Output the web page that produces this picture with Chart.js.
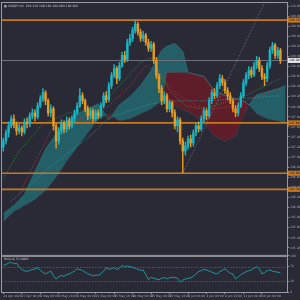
<!DOCTYPE html>
<html>
<head>
<meta charset="utf-8">
<script src="https://cdn.jsdelivr.net/npm/chart.js@4.4.0/dist/chart.umd.min.js"></script>
<style>
  html, body { margin: 0; padding: 0; background: #2a2a36; }
  canvas { display: block; }
</style>
</head>
<body>
<canvas id="chart" width="300" height="300"></canvas>
<script>
// ---- data ----
var symbolTitle = "USDJPY,H4";
var dateLabels = ["24 Apr 2020", "27 Apr 08:00", "1 May 00:00", "4 May 16:00", "8 May 08:00",
  "13 May 00:00", "15 May 16:00", "20 May 08:00", "25 May 00:00", "27 May 16:00",
  "1 Jun 08:00", "4 Jun 00:00", "8 Jun 16:00", "11 Jun 08:00", "16 Jun 00:00"];

var opens = [107.20,107.32,107.48,107.62,107.76,107.64,107.52,107.58,107.50,107.70,
  107.66,107.82,107.88,107.80,108.02,108.16,108.28,108.12,107.88,107.96,
  107.62,107.32,107.52,107.68,107.56,107.72,107.62,107.76,107.88,108.02,
  108.22,108.12,107.96,107.82,107.92,107.76,107.88,107.82,108.02,108.22,
  108.14,108.42,108.62,108.76,108.56,108.82,109.02,108.94,109.28,109.36,
  109.52,109.64,109.48,109.36,109.42,109.28,109.16,109.24,108.92,108.62,
  108.36,108.12,108.22,107.96,108.08,107.88,107.62,107.74,107.32,107.12,
  107.22,107.36,107.28,107.48,107.62,107.56,107.76,107.92,107.82,108.12,
  108.28,108.22,108.42,108.56,108.48,108.32,108.22,108.12,107.96,107.88,
  108.02,108.22,108.48,108.62,108.72,108.64,108.82,108.92,108.76,108.60,
  108.56,108.82,109.12,109.22,109.02,109.12];
var highs = [107.38,107.54,107.70,107.82,107.84,107.70,107.66,107.62,107.76,107.78,
  107.88,107.96,107.94,108.08,108.22,108.36,108.32,108.16,108.04,108.00,
  107.66,107.58,107.74,107.72,107.80,107.78,107.82,107.94,108.08,108.36,
  108.28,108.16,108.02,107.98,107.96,107.94,107.94,108.08,108.28,108.30,
  108.48,108.68,108.84,108.80,108.88,109.08,109.10,109.34,109.44,109.58,
  109.72,109.68,109.54,109.50,109.46,109.34,109.30,109.28,108.98,108.66,
  108.42,108.30,108.26,108.14,108.12,107.94,107.80,107.78,107.38,107.30,
  107.42,107.44,107.54,107.68,107.70,107.82,107.98,107.96,108.18,108.34,
  108.36,108.48,108.64,108.62,108.54,108.38,108.28,108.16,108.02,108.08,
  108.28,108.54,108.68,108.80,108.78,108.88,109.00,108.98,108.82,108.66,
  108.88,109.18,109.28,109.26,109.18,109.16];
var lows = [107.12,107.26,107.40,107.58,107.58,107.44,107.46,107.42,107.46,107.58,
  107.60,107.76,107.72,107.76,107.98,108.10,108.04,107.82,107.80,107.54,
  107.18,107.26,107.46,107.48,107.50,107.56,107.58,107.70,107.84,107.98,
  108.06,107.90,107.74,107.76,107.70,107.72,107.76,107.78,107.98,108.08,
  108.10,108.36,108.58,108.46,108.52,108.78,108.88,108.90,109.22,109.30,
  109.46,109.42,109.30,109.30,109.22,109.10,109.10,108.86,108.56,108.28,
  108.04,108.06,107.90,107.90,107.80,107.56,107.50,107.26,106.68,107.04,
  107.16,107.20,107.22,107.42,107.50,107.52,107.70,107.74,107.78,108.06,
  108.16,108.18,108.36,108.42,108.26,108.14,108.06,107.90,107.80,107.82,
  107.98,108.18,108.42,108.56,108.58,108.60,108.76,108.70,108.54,108.42,
  108.50,108.76,109.06,108.96,108.96,108.86];
var closes = [107.32,107.48,107.62,107.76,107.64,107.52,107.58,107.50,107.70,107.66,
  107.82,107.88,107.80,108.02,108.16,108.28,108.12,107.88,107.96,107.62,
  107.32,107.52,107.68,107.56,107.72,107.62,107.76,107.88,108.02,108.22,
  108.12,107.96,107.82,107.92,107.76,107.88,107.82,108.02,108.22,108.14,
  108.42,108.62,108.76,108.56,108.82,109.02,108.94,109.28,109.36,109.52,
  109.64,109.48,109.36,109.42,109.28,109.16,109.24,108.92,108.62,108.36,
  108.12,108.22,107.96,108.08,107.88,107.62,107.74,107.32,107.12,107.22,
  107.36,107.28,107.48,107.62,107.56,107.76,107.92,107.82,108.12,108.28,
  108.22,108.42,108.56,108.48,108.32,108.22,108.12,107.96,107.88,108.02,
  108.22,108.48,108.62,108.72,108.64,108.82,108.92,108.76,108.60,108.56,
  108.82,109.12,109.22,109.02,109.12,108.92];

// ichimoku cloud edges (bar index, span A, span B)
var cloudIdx = [0,4,8,12,16,20,24,28,32,36,40,44,48,52,56,60,62,65,68,70,76,80,84,88,91,93,96,100,104,107];
var spanA = [105.88,106.04,106.26,106.72,107.16,107.46,107.72,107.86,107.96,108.06,107.74,108.04,108.20,108.42,
  108.72,109.12,109.20,109.26,109.10,108.68,108.60,108.32,108.22,108.16,108.12,108.04,108.24,108.30,108.36,108.42];
var spanB = [105.72,105.92,106.04,106.16,106.34,106.60,106.92,107.20,107.48,107.76,107.86,107.72,107.76,107.86,
  107.96,108.12,108.68,108.68,108.68,108.68,108.60,108.32,108.22,108.16,108.12,108.04,107.86,107.76,107.72,107.68];

// dark red kumo block under the May peak
var kumoIdx = [61,65,71,76,80,84,88,91,93];
var kumoTop = [108.68,108.68,108.66,108.60,108.32,108.22,108.16,108.12,108.04];
var kumoBottom = [108.12,108.02,107.88,107.68,107.42,107.32,107.42,107.82,108.04];

// dotted indicator lines
var greenIdx = [0,6,15,25,37,44,52,56,59,63,69,75,80,86,92,97,105];
var greenVals = [106.58,107.12,107.66,107.88,108.02,108.42,108.88,108.98,108.72,108.32,108.02,107.96,108.02,108.12,108.22,108.36,108.56];
var redIdx = [6,18,29,40,48,54,59,65,73,80,88,95,105];
var redVals = [106.26,107.52,107.76,108.02,108.42,108.82,108.68,108.28,108.02,107.96,108.02,108.18,108.36];
var tealIdx = [3,18,32,40,56,67,78,90,105];
var tealVals = [106.12,106.82,107.38,107.78,108.06,108.12,108.12,108.16,108.22];

// trend line from the May low
var trendIdx = [68, 99];
var trendVals = [106.68, 110.06];

// horizontal levels
var levels = [109.72, 107.68, 106.68, 106.36];

// RSI(14)
var rsiValues = [73,76,80,82,78,80,70,62,59,57,60,62,64,67,60,55,50,54,58,45,
  36,42,46,43,48,50,54,58,64,62,59,55,50,48,44,47,46,50,58,67,
  63,64,68,62,66,73,70,72,70,68,66,62,60,61,48,34,41,38,36,34,
  38,40,37,39,41,40,38,27,33,36,38,39,44,50,57,59,62,61,58,55,
  52,50,56,60,64,58,52,50,36,42,48,52,56,59,61,66,70,64,50,54,
  59,61,58,56,55,53];
var rsiLevels = [70, 30];
var rsiTicks = [0, 30, 70, 100];

// ---- colours ----
var bg = '#2a2a36';
var upColor = '#17b6c4';
var downColor = '#e59a20';
var levelColor = '#c8781e';
var axisText = '#a4a4ac';
var axisLine = '#9a9aa2';
var tealFill = 'rgba(34,132,138,0.6)';
var redFill = 'rgba(112,26,38,0.75)';

var slots = [];
for (var i = 0; i < opens.length + 2; i++) slots.push(i);

function pts(idx, vals) {
  return idx.map(function (x, k) { return { x: x, y: vals[k] }; });
}

var bodyColors = opens.map(function (o, i) { return closes[i] >= o ? upColor : downColor; });

var mt4 = {
  id: 'mt4',
  beforeDraw: function (chart) {
    var c = chart.ctx;
    c.save();
    c.fillStyle = bg;
    c.fillRect(0, 0, chart.width, chart.height);
    c.restore();
  },
  afterDatasetDraw: function (chart, args) {
    if (args.index !== 0) return;
    var c = chart.ctx, a = chart.chartArea, ys = chart.scales.y;
    c.save();
    c.lineWidth = 1;
    var py = Math.round(ys.getPixelForValue(closes[closes.length - 1])) + 0.5;
    c.strokeStyle = '#707080';
    c.beginPath(); c.moveTo(a.left, py); c.lineTo(a.right, py); c.stroke();
    c.lineWidth = 1.6;
    c.strokeStyle = levelColor;
    levels.forEach(function (v) {
      var ly = ys.getPixelForValue(v);
      c.beginPath(); c.moveTo(a.left, ly); c.lineTo(a.right, ly); c.stroke();
    });
    c.restore();
  },
  afterDraw: function (chart) {
    var c = chart.ctx, a = chart.chartArea, ys = chart.scales.y, rs = chart.scales.yRsi;
    c.save();
    // rsi level lines
    c.strokeStyle = '#6a6a74';
    c.lineWidth = 0.7;
    c.setLineDash([1.5, 1.5]);
    rsiLevels.forEach(function (v) {
      var py = Math.round(rs.getPixelForValue(v)) + 0.5;
      c.beginPath(); c.moveTo(a.left, py); c.lineTo(a.right, py); c.stroke();
    });
    c.setLineDash([]);
    // panel frames
    c.strokeStyle = axisLine;
    c.lineWidth = 1;
    c.strokeRect(a.left - 0.5, ys.top - 0.5, a.right - a.left + 1, ys.bottom - ys.top);
    c.strokeRect(a.left - 0.5, rs.top + 0.5, a.right - a.left + 1, rs.bottom - rs.top);
    // price labels on the axis
    c.font = '3px "DejaVu Sans"';
    c.textBaseline = 'middle';
    levels.forEach(function (v) {
      var py = ys.getPixelForValue(v);
      c.fillStyle = levelColor;
      c.fillRect(a.right + 1, py - 2.5, 12, 5);
      c.fillStyle = '#1e1e24';
      c.fillText(v.toFixed(3), a.right + 2, py);
    });
    var last = closes[closes.length - 1];
    var pl = ys.getPixelForValue(last);
    c.fillStyle = '#e8e8ec';
    c.fillRect(a.right + 1, pl - 2.5, 12, 5);
    c.fillStyle = '#1e1e24';
    c.fillText(last.toFixed(3), a.right + 2, pl);
    // titles
    var n = closes.length - 1;
    c.fillStyle = '#c4c4cc';
    c.fillText('\u25A3 ' + symbolTitle + '  ' + opens[n].toFixed(3) + ' ' + highs[n].toFixed(3) + ' ' +
      lows[n].toFixed(3) + ' ' + closes[n].toFixed(3), a.left + 2, ys.top + 3);
    c.fillText('RSI(14) ' + rsiValues[n].toFixed(4), a.left + 2, rs.top + 3.5);
    c.restore();
  }
};

new Chart(document.getElementById('chart'), {
  type: 'bar',
  data: {
    labels: slots,
    datasets: [
      { type: 'line', data: pts(cloudIdx, spanA), yAxisID: 'y', order: 10,
        borderColor: 'rgba(40,150,150,0.8)', borderWidth: 0.5, pointRadius: 0,
        fill: { target: '+1', above: tealFill, below: redFill } },
      { type: 'line', data: pts(cloudIdx, spanB), yAxisID: 'y', order: 10,
        borderColor: 'rgba(40,150,150,0.5)', borderWidth: 0.5, pointRadius: 0, fill: false },
      { type: 'line', data: pts(kumoIdx, kumoTop), yAxisID: 'y', order: 11,
        borderColor: 'rgba(140,40,50,0.8)', borderWidth: 0.5, pointRadius: 0,
        fill: { target: '+1', above: redFill, below: redFill } },
      { type: 'line', data: pts(kumoIdx, kumoBottom), yAxisID: 'y', order: 11,
        borderColor: 'rgba(40,150,150,0.6)', borderWidth: 0.5, pointRadius: 0, fill: false },
      { type: 'line', data: pts(trendIdx, trendVals), yAxisID: 'y', order: 8,
        borderColor: '#7a7a84', borderWidth: 0.6, pointRadius: 0, borderDash: [2, 1.5] },
      { type: 'line', data: pts(tealIdx, tealVals), yAxisID: 'y', order: 7,
        borderColor: '#2aa6a8', borderWidth: 0.8, pointRadius: 0, borderDash: [1, 1.5] },
      { type: 'line', data: pts(redIdx, redVals), yAxisID: 'y', order: 7,
        borderColor: '#b8403c', borderWidth: 0.8, pointRadius: 0, borderDash: [1, 1.5] },
      { type: 'line', data: pts(greenIdx, greenVals), yAxisID: 'y', order: 7,
        borderColor: '#3aa040', borderWidth: 0.8, pointRadius: 0, borderDash: [1, 1.5] },
      { data: lows.map(function (l, i) { return [l, highs[i]]; }), yAxisID: 'y', order: 4,
        backgroundColor: bodyColors, barThickness: 0.8, grouped: false, borderWidth: 0 },
      { data: opens.map(function (o, i) { return [o, closes[i]]; }), yAxisID: 'y', order: 3,
        backgroundColor: bodyColors, barThickness: 1.8, grouped: false, borderWidth: 0, minBarLength: 0.6 },
      { type: 'line', data: rsiValues, yAxisID: 'yRsi', order: 1,
        borderColor: '#1fa3a8', borderWidth: 0.9, pointRadius: 0 }
    ]
  },
  options: {
    responsive: false,
    animation: false,
    events: [],
    layout: { padding: { left: 2, top: 3, right: 0, bottom: 0 } },
    plugins: { legend: { display: false }, tooltip: { enabled: false } },
    scales: {
      x: {
        type: 'category', offset: true,
        grid: { drawOnChartArea: false, offset: false, tickLength: 2, color: axisLine },
        border: { color: axisLine },
        ticks: {
          autoSkip: false, maxRotation: 0, align: 'start', padding: 0,
          color: axisText, font: { size: 3, family: 'DejaVu Sans' },
          callback: function (v, idx) { return idx % 7 === 0 ? dateLabels[idx / 7] : null; }
        },
        afterFit: function (s) { s.height = 8; }
      },
      y: {
        position: 'right', stack: 'panes', stackWeight: 7,
        min: 105.04, max: 110.06,
        grid: { drawOnChartArea: false, tickLength: 2, color: axisLine },
        border: { color: axisLine },
        ticks: {
          stepSize: 0.2, includeBounds: false, autoSkip: false, padding: 1,
          color: axisText, font: { size: 3, family: 'DejaVu Sans' },
          callback: function (v) { return v.toFixed(3); }
        },
        afterFit: function (s) { s.width = 13; }
      },
      yRsi: {
        position: 'right', stack: 'panes', stackWeight: 1,
        min: 0, max: 100,
        grid: { drawOnChartArea: false, tickLength: 2, color: axisLine },
        border: { color: axisLine },
        afterBuildTicks: function (s) { s.ticks = rsiTicks.map(function (v) { return { value: v }; }); },
        ticks: {
          autoSkip: false, padding: 1,
          color: axisText, font: { size: 3, family: 'DejaVu Sans' }
        },
        afterFit: function (s) { s.width = 13; }
      }
    }
  },
  plugins: [mt4]
});
</script>
</body>
</html>
